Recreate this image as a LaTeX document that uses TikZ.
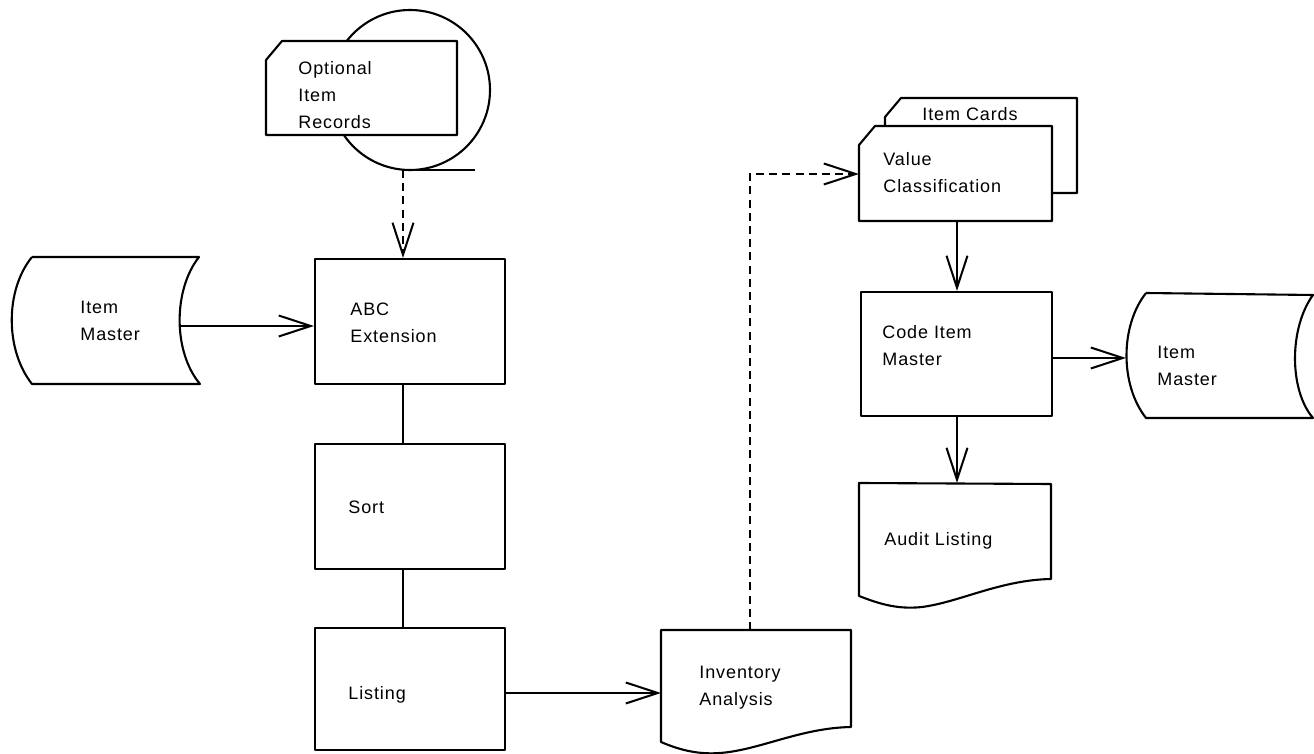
\documentclass[tikz,border=0pt]{standalone}
\usepackage{fontspec}
\setmainfont{Liberation Sans}[LetterSpace=5]
\usetikzlibrary{arrows.meta}
\begin{document}
\begin{tikzpicture}[x=0.5pt,y=-0.5pt,
  shapeline/.style={draw=black,line width=1.05pt,line join=round},
  procbox/.style={shapeline,rectangle,minimum width=95pt,minimum height=62.5pt,inner sep=0pt},
  lbl/.style={font=\fontsize{9}{13.5}\selectfont,align=left,inner sep=0pt,anchor=west},
  conn/.style={draw=black,line width=0.85pt},
  arr/.style={conn,-{Straight Barb[length=16pt,width=10.5pt,line width=1pt]}},
  dasharr/.style={arr,dash pattern=on 4pt off 2.6pt}]
\useasboundingbox (0,0) rectangle (1314,754);

% ---- Optional item records (card over tape)
\node[shapeline,circle,minimum size=80pt,inner sep=0pt,outer sep=0pt] (tape) at (410,90) {};
\draw[conn,line width=0.9pt] (tape.south) -- ++(65,0);
\draw[shapeline,fill=white] (266,60) -- (282,41) -- (457,41) -- (457,135) -- (266,135) -- cycle;
\node[lbl] (optxt) at (298,95) {Optional\\Item\\Records};

% ---- Item Master (left)
\draw[shapeline] (32,257) -- (199,257) .. controls (173,290) and (173,352) .. (200,384)
  -- (32,384) .. controls (5,350) and (5,290) .. (32,257);
\node[lbl] (imltxt) at (80,321) {Item\\Master};
\coordinate (imL) at (180,326);

% ---- process boxes
\node[procbox] (abc) at (410,321.5) {};
\node[lbl] (abctxt) at (350,322.5) {ABC\\Extension};
\node[procbox] (sort) at (410,506.5) {};
\node[lbl] (sorttxt) at (348,507) {Sort};
\node[procbox,minimum height=61pt] (list) at (410,689) {};
\node[lbl] (listtxt) at (348,695) {Listing};

% ---- Inventory Analysis document
\draw[shapeline] (661,630) -- (851,630) -- (851,727) .. controls (800,728) and (760,750) .. (720,753)
  .. controls (695,755) and (675,748) .. (661,742) -- cycle;
\node[lbl] (invtxt) at (699,688) {Inventory\\Analysis};
\coordinate (invL) at (661,693);
\coordinate (invT) at (750,630);
\coordinate (bend) at (750,174);

% ---- Item cards / Value Classification
\draw[shapeline] (885,117) -- (901,98) -- (1077,98) -- (1077,193) -- (885,193) -- cycle;
\node[lbl] (cardtxt) at (922,114) {Item Cards};
\draw[shapeline,fill=white] (859,145) -- (875,126) -- (1052,126) -- (1052,221) -- (859,221) -- cycle;
\node[lbl] (vctxt) at (883,173) {Value\\Classification};
\coordinate (vcL) at (859,174);
\coordinate (vcB) at (957,221);

% ---- Code Item Master
\node[procbox,minimum width=95.5pt,minimum height=62pt] (cim) at (956.5,354) {};
\node[lbl] (cimtxt) at (882,345.5) {Code Item\\Master};

% ---- Item Master (right)
\draw[shapeline] (1146,293) -- (1313,295) .. controls (1289,328) and (1289,390) .. (1313,418)
  -- (1146,418) .. controls (1120,385) and (1120,326) .. (1146,293);
\node[lbl] (imrtxt) at (1157,366) {Item\\Master};
\coordinate (imR) at (1126,358);

% ---- Audit Listing document
\draw[shapeline] (859,483) -- (1051,484) -- (1051,579) .. controls (1000,580) and (960,602) .. (922,607)
  .. controls (895,610) and (875,602) .. (859,596) -- cycle;
\node[lbl] (audtxt) at (884,541) {Audit Listing};
\coordinate (audT) at (957,483);

% ---- connectors
\draw[dasharr] ([xshift=-3.5pt]tape.south) -- ([xshift=-3.5pt]abc.north);
\draw[arr] (imL) -- (imL -| abc.west);
\draw[conn] ([xshift=-3.5pt]abc.south) -- ([xshift=-3.5pt]sort.north);
\draw[conn] ([xshift=-3.5pt]sort.south) -- ([xshift=-3.5pt]list.north);
\draw[arr] (invL -| list.east) -- (invL);
\draw[dasharr] (invT) -- (bend) -- (vcL);
\draw[arr] (vcB) -- (vcB |- cim.north);
\draw[arr] (imR -| cim.east) -- (imR);
\draw[arr] (audT |- cim.south) -- (audT);
\end{tikzpicture}
\end{document}
